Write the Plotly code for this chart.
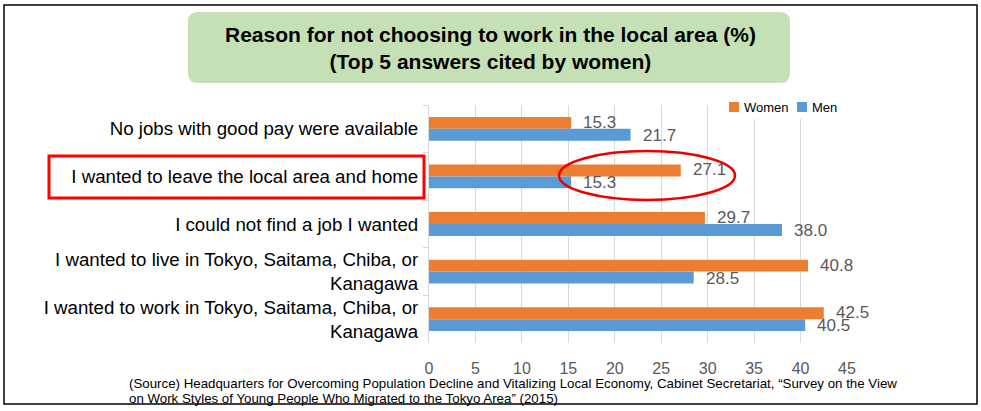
import plotly.graph_objects as go

categories = [
    "No jobs with good pay were available",
    "I wanted to leave the local area and home",
    "I could not find a job I wanted",
    "I wanted to live in Tokyo, Saitama, Chiba, or<br>Kanagawa",
    "I wanted to work in Tokyo, Saitama, Chiba, or<br>Kanagawa",
]
women = [15.3, 27.1, 29.7, 40.8, 42.5]
men = [21.7, 15.3, 38.0, 28.5, 40.5]
series_names = ["Women", "Men"]
x_ticks = [0, 5, 10, 15, 20, 25, 30, 35, 40, 45]

title_lines = ["Reason for not choosing to work in the local area (%)",
               "(Top 5 answers cited by women)"]
source_lines = [
    "(Source) Headquarters for Overcoming Population Decline and Vitalizing Local Economy, "
    "Cabinet Secretariat, \u201cSurvey on the View",
    "on Work Styles of Young People Who Migrated to the Tokyo Area\u201d (2015)",
]

W, H = 981, 411
L, R, T, B = 429, 847, 105, 343


def px(x):
    return (x - L) / (R - L)


def py(y):
    return (B - y) / (B - T)


FONT = "Arial, Liberation Sans, sans-serif"
ORANGE = "#ed7d31"
BLUE = "#5b9bd5"
GRAY = "#595959"
COLORS = [ORANGE, BLUE]

fig = go.Figure()
fig.add_trace(go.Bar(y=categories, x=women, name=series_names[0], orientation="h",
                     marker=dict(color=ORANGE, line=dict(width=0))))
fig.add_trace(go.Bar(y=categories, x=men, name=series_names[1], orientation="h",
                     marker=dict(color=BLUE, line=dict(width=0))))

annotations = []
for c, v in zip(categories, women):
    annotations.append(dict(x=v, y=c, xref="x", yref="y", text=f"{v:.1f}", showarrow=False,
                            xanchor="left", yanchor="middle", xshift=10, yshift=6.5,
                            font=dict(family=FONT, size=17, color=GRAY)))
for c, v in zip(categories, men):
    annotations.append(dict(x=v, y=c, xref="x", yref="y", text=f"{v:.1f}", showarrow=False,
                            xanchor="left", yanchor="middle", xshift=10, yshift=-6.5,
                            font=dict(family=FONT, size=17, color=GRAY)))

# title
annotations.append(dict(x=px(490), y=py(48), xref="paper", yref="paper",
                        text="<b>" + "<br>".join(title_lines) + "</b>", showarrow=False,
                        xanchor="center", yanchor="middle", align="center",
                        font=dict(family=FONT, size=21, color="#000000")))
# source (two lines, tight spacing)
for i, line in enumerate(source_lines):
    annotations.append(dict(x=px(127), y=py(383.5 + 15 * i), xref="paper", yref="paper",
                            text=line, showarrow=False, xanchor="left", yanchor="middle",
                            align="left", font=dict(family=FONT, size=13.3, color="#000000")))


def rounded_rect(x0, y0, x1, y1, r):
    pts = [
        ("M", x0 + r, y0), ("L", x1 - r, y0), ("Q", (x1, y0), (x1, y0 + r)),
        ("L", x1, y1 - r), ("Q", (x1, y1), (x1 - r, y1)),
        ("L", x0 + r, y1), ("Q", (x0, y1), (x0, y1 - r)),
        ("L", x0, y0 + r), ("Q", (x0, y0), (x0 + r, y0)),
    ]
    s = ""
    for p in pts:
        if p[0] == "Q":
            (cx, cy), (ex, ey) = p[1], p[2]
            s += f" Q {px(cx)},{py(cy)} {px(ex)},{py(ey)}"
        else:
            s += f" {p[0]} {px(p[1])},{py(p[2])}"
    return s + " Z"


shapes = [
    dict(type="rect", xref="paper", yref="paper", x0=px(4), y0=py(5), x1=px(977), y1=py(404),
         line=dict(color="#000000", width=1.5), fillcolor="rgba(0,0,0,0)", layer="below"),
    dict(type="path", xref="paper", yref="paper", path=rounded_rect(188, 12, 790, 83, 10),
         fillcolor="#c5e0b4", line=dict(width=0), layer="below"),
    dict(type="rect", xref="paper", yref="paper", x0=px(49), y0=py(156), x1=px(424), y1=py(198),
         line=dict(color="#ff0000", width=3), fillcolor="rgba(0,0,0,0)"),
    dict(type="circle", xref="paper", yref="paper", x0=px(559), y0=py(151), x1=px(735), y1=py(200),
         line=dict(color="#ee0000", width=2.5), fillcolor="rgba(0,0,0,0)"),
    # legend background (covers gridlines)
    dict(type="rect", xref="paper", yref="paper", x0=px(724), y0=py(98), x1=px(842), y1=py(119),
         fillcolor="white", line=dict(width=0), layer="above"),
]

# manual compact legend
legend_x = [729, 797]
for name, color, lx in zip(series_names, COLORS, legend_x):
    shapes.append(dict(type="rect", xref="paper", yref="paper", x0=px(lx), y0=py(102),
                       x1=px(lx + 10), y1=py(112), fillcolor=color, line=dict(width=0),
                       layer="above"))
    annotations.append(dict(x=px(lx + 13), y=py(107), xref="paper", yref="paper", text=name,
                            showarrow=False, xanchor="left", yanchor="middle",
                            font=dict(family=FONT, size=13, color="#000000")))

fig.update_layout(
    width=W, height=H,
    margin=dict(l=L, r=W - R, t=T, b=H - B, pad=0),
    paper_bgcolor="white", plot_bgcolor="white",
    barmode="group", bargap=0.5, bargroupgap=0,
    font=dict(family=FONT, color="#000000"),
    showlegend=False,
    annotations=annotations,
    shapes=shapes,
    xaxis=dict(range=[0, 45], tickvals=x_ticks, showgrid=True, gridcolor="#d9d9d9", gridwidth=1,
               zeroline=False, showline=False, ticks="",
               tickfont=dict(family=FONT, size=16, color=GRAY), ticklabelstandoff=14,
               fixedrange=True),
    yaxis=dict(categoryorder="array", categoryarray=categories, autorange="reversed",
               showline=True, linecolor="#d9d9d9", linewidth=1, ticks="outside", ticklen=5,
               tickcolor="#d9d9d9", tickson="boundaries", showgrid=False,
               tickfont=dict(family=FONT, size=18.7, color="#000000"), ticklabelstandoff=6,
               fixedrange=True),
)

fig.write_html("out.html", config={"displayModeBar": False},
               post_script="document.body.style.margin='0px';document.body.style.overflow='hidden';")
